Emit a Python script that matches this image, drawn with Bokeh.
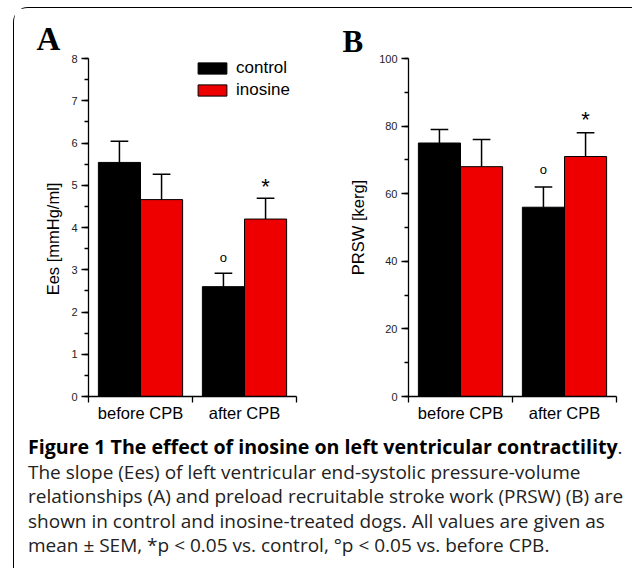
from bokeh.plotting import figure
from bokeh.models import (Range1d, SingleIntervalTicker, FixedTicker, Legend, LegendItem,
                          Div, ColumnDataSource)
from bokeh.layouts import column, row
from bokeh.embed import file_html
from bokeh.resources import INLINE
from bokeh.core.properties import value

# ---------------- data ----------------
categories = ["before CPB", "after CPB"]
series = ["control", "inosine"]

ees_control = [5.54, 2.60]
ees_control_sem = [0.50, 0.32]
ees_inosine = [4.66, 4.20]
ees_inosine_sem = [0.60, 0.49]
ees_control_marks = ["", "o"]
ees_inosine_marks = ["", "*"]

prsw_control = [75, 56]
prsw_control_sem = [4, 6]
prsw_inosine = [68, 71]
prsw_inosine_sem = [8, 7]
prsw_control_marks = ["", "o"]
prsw_inosine_marks = ["", "*"]

caption_title = "Figure 1 The effect of inosine on left ventricular contractility"
caption_lines = [
    "The slope (Ees) of left ventricular end-systolic pressure-volume",
    "relationships (A) and preload recruitable stroke work (PRSW) (B) are",
    "shown in control and inosine-treated dogs. All values are given as",
    "mean \u00b1 SEM, *p &lt; 0.05 vs. control, \u00b0p &lt; 0.05 vs. before CPB.",
]

COLORS = {"control": "#000000", "inosine": "#ee0000"}
SANS = "Liberation Sans"
BAR_W = 0.405
CAP = 0.085


def make_panel(letter, ylabel, ymax, major, control, control_sem, inosine, inosine_sem,
               control_marks, inosine_marks, width, border_right, letter_offset,
               letter_size, letter_standoff, circle_off, star_off, label_standoff,
               show_legend):
    p = figure(width=width, height=424, output_backend="svg", toolbar_location=None,
               x_range=Range1d(0, len(categories)), y_range=Range1d(0, ymax),
               min_border_left=74, min_border_right=border_right,
               min_border_top=50, min_border_bottom=36,
               background_fill_color="white", border_fill_color="white")
    p.outline_line_color = None
    p.xgrid.visible = False
    p.ygrid.visible = False

    # panel letter
    p.title.text = letter
    p.title.align = "left"
    p.title.offset = letter_offset
    p.title.standoff = letter_standoff
    p.title.text_font = "Liberation Serif"
    p.title.text_font_style = "bold"
    p.title.text_font_size = letter_size
    p.title.text_color = "black"

    n = len(categories)
    groups = [("control", control, control_sem, control_marks, -1),
              ("inosine", inosine, inosine_sem, inosine_marks, +1)]
    renderers = {}
    for name, vals, sems, marks, side in groups:
        xs = [i + 0.5 + side * BAR_W / 2 for i in range(n)]
        tops = [v + s for v, s in zip(vals, sems)]
        src = ColumnDataSource(dict(x=xs, top=vals, upper=tops,
                                    x0=[x - CAP for x in xs], x1=[x + CAP for x in xs],
                                    mark=marks))
        # error bar (only the upper half is visible, as in the original)
        p.segment(x0="x", y0="top", x1="x", y1="upper", source=src,
                  line_color="black", line_width=1.5)
        p.segment(x0="x0", y0="upper", x1="x1", y1="upper", source=src,
                  line_color="black", line_width=1.5)
        r = p.vbar(x="x", top="top", bottom=0, width=BAR_W, source=src,
                   fill_color=COLORS[name], line_color="black", line_width=1)
        renderers[name] = r
        if name == "control":
            p.text(x="x", y="upper", text="mark", source=src, text_align="center",
                   text_baseline="alphabetic", y_offset=circle_off,
                   text_font=value(SANS), text_font_size="13px", text_color="black")
        else:
            p.text(x="x", y="upper", text="mark", source=src, text_align="center",
                   text_baseline="alphabetic", y_offset=star_off,
                   text_font=value(SANS), text_font_size="22px", text_color="black")

    # y axis
    ya = p.yaxis[0]
    ya.ticker = SingleIntervalTicker(interval=major, num_minor_ticks=2)
    ya.axis_label = ylabel
    ya.axis_label_text_font = SANS
    ya.axis_label_text_font_size = "16.5px"
    ya.axis_label_text_font_style = "normal"
    ya.axis_label_text_color = "black"
    ya.axis_label_standoff = label_standoff
    ya.major_label_text_font = SANS
    ya.major_label_text_font_size = "11px"
    ya.major_label_text_color = "#222222"
    ya.major_label_standoff = 4
    ya.major_tick_out = 7
    ya.major_tick_in = 0
    ya.minor_tick_out = 4
    ya.minor_tick_in = 0
    ya.axis_line_width = 1.3
    ya.major_tick_line_width = 1.3
    ya.minor_tick_line_width = 1.3

    # x axis: labels at group centres, ticks at group boundaries
    xa = p.xaxis[0]
    centres = [i + 0.5 for i in range(n)]
    xa.ticker = FixedTicker(ticks=centres, minor_ticks=list(range(n + 1)))
    xa.major_label_overrides = {c: lab for c, lab in zip(centres, categories)}
    xa.major_tick_out = 0
    xa.major_tick_in = 0
    xa.minor_tick_out = 6
    xa.minor_tick_in = 0
    xa.minor_tick_line_width = 1.3
    xa.axis_line_width = 1.3
    xa.major_label_standoff = 1
    xa.major_label_text_font = SANS
    xa.major_label_text_font_size = "16.5px"
    xa.major_label_text_color = "black"

    if show_legend:
        legend = Legend(items=[LegendItem(label=s, renderers=[renderers[s]]) for s in series],
                        location=(106, 296), orientation="vertical",
                        glyph_width=36, glyph_height=14, label_height=20,
                        label_standoff=6, spacing=2, padding=0, margin=0,
                        border_line_color=None, background_fill_alpha=0,
                        label_text_font=SANS, label_text_font_size="17px",
                        label_text_color="black")
        p.add_layout(legend)
    return p


pA = make_panel("A", "Ees [mmHg/ml]" + "\u00a0" * 5, 8, 1,
                ees_control, ees_control_sem, ees_inosine, ees_inosine_sem,
                ees_control_marks, ees_inosine_marks,
                width=320, border_right=38, letter_offset=-52, letter_size="33px",
                letter_standoff=4, circle_off=-15.6, star_off=-11.5,
                label_standoff=6, show_legend=True)
pB = make_panel("B", "PRSW [kerg]", 100, 20,
                prsw_control, prsw_control_sem, prsw_inosine, prsw_inosine_sem,
                prsw_control_marks, prsw_inosine_marks,
                width=290, border_right=8, letter_offset=-66, letter_size="31px",
                letter_standoff=0, circle_off=-17.6, star_off=-13.5,
                label_standoff=9, show_legend=False)

body = "<br>".join(caption_lines)
caption = Div(
    text=('<div style="margin-left:9px; margin-top:-2px; font-family:\'Open Sans\'; '
          'font-size:19px; line-height:24.5px; color:#222; white-space:nowrap;">'
          '<span style="font-weight:bold; color:#000; font-size:19.6px;">'
          + caption_title + '</span>.<br>' + body + '</div>'),
    width=612, height=134)

layout = column(row(pA, pB), caption,
                margin=(7, 0, 0, 13),
                styles={"border-left": "1px solid #000", "border-top": "1px solid #000",
                        "border-top-left-radius": "15px"})

open("out.html", "w").write(file_html(layout, INLINE))
